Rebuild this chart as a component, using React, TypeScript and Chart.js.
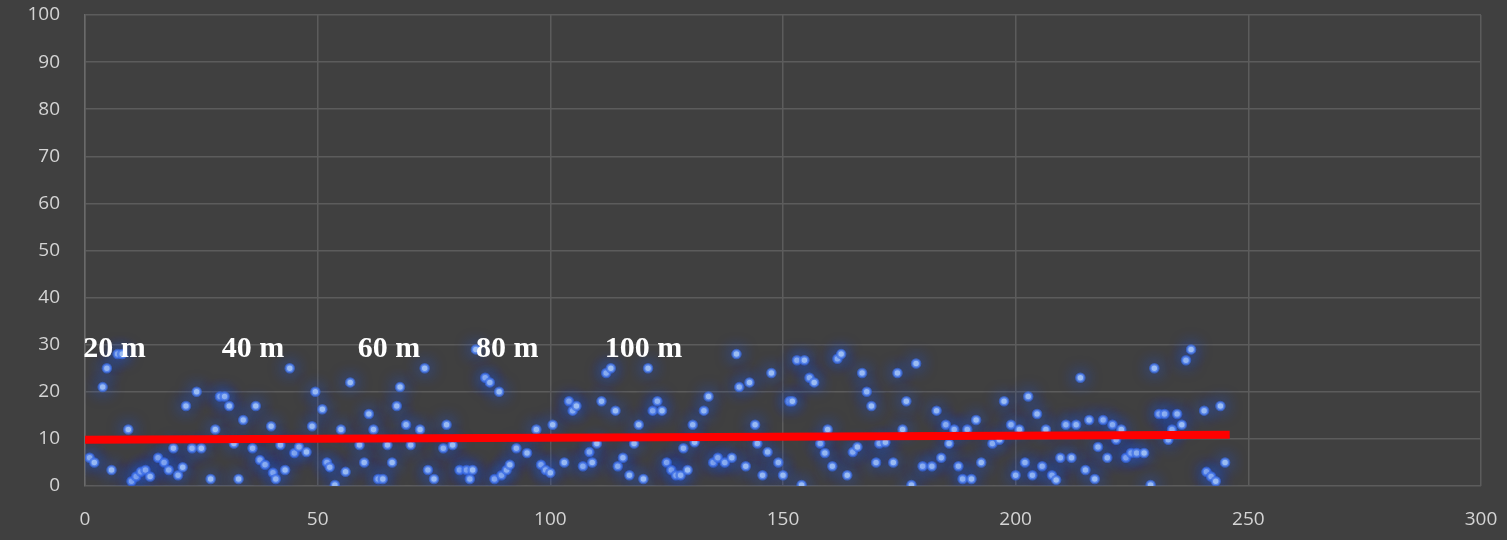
import React, { useEffect, useRef } from "react";
import { Chart, registerables } from "chart.js";

Chart.register(...registerables);

const xValues = [
  1, 2, 3.8, 4.7, 5.7, 7, 8, 9.3, 10, 11, 12, 13, 14, 15.7, 17, 18, 19, 20, 21, 21.7,
  23, 24, 25, 27, 28, 29, 30, 31, 32, 33, 34, 36, 36.7, 37.6, 38.7, 40, 40.4, 41, 42, 43,
  44, 45, 46, 47.6, 48.8, 49.5, 51, 52, 52.6, 53.7, 55, 56, 57, 59, 60, 61, 62, 63, 64, 65,
  66, 67, 67.7, 69, 70, 72, 73, 73.7, 75, 77, 77.7, 79, 80.5, 82, 82.7, 83.3, 84, 86, 87, 88,
  89, 89.5, 90.6, 91.3, 92.7, 95, 97, 98, 99, 100, 100.5, 103, 104, 104.8, 105.6, 107, 108.4, 109, 110, 111,
  112, 113, 114, 114.5, 115.6, 117, 118, 119, 120, 121, 122, 123, 124, 125, 126, 127, 128, 128.6, 129.5, 130.6,
  131, 133, 134, 135, 136, 137.5, 139, 140, 140.6, 142, 142.8, 144, 144.5, 145.6, 146.7, 147.5, 149, 150, 151.4, 152,
  153, 154, 154.6, 155.7, 156.7, 158, 159, 159.6, 160.6, 161.7, 162.5, 163.8, 165, 166, 167, 168, 169, 170, 170.7, 172,
  173.7, 174.6, 175.7, 176.5, 177.6, 178.6, 180, 182, 183, 184, 185, 185.7, 186.8, 187.7, 188.6, 189.6, 190.5, 191.5, 192.6, 195,
  196.5, 197.5, 199, 200, 200.8, 202, 202.7, 203.6, 204.6, 205.7, 206.5, 207.8, 208.7, 209.6, 210.8, 212, 213, 213.9, 215, 215.8,
  217, 217.7, 218.8, 219.7, 220.8, 221.6, 222.7, 223.7, 224.8, 226, 227.6, 229, 229.8, 230.8, 232, 232.8, 233.6, 234.7, 235.7, 236.6,
  237.7, 240.5, 241, 242, 243, 244, 245,
];

const yValues = [
  6, 5, 21, 25, 3.4, 28, 28, 12, 1, 2, 3, 3.4, 2, 6, 5, 3.4, 8, 2.3, 4, 17,
  8, 20, 8, 1.5, 12, 19, 19, 17, 9, 1.5, 14, 8, 17, 5.5, 4.5, 12.7, 2.8, 1.5, 8.7, 3.4,
  25, 7, 8.3, 7.2, 12.7, 20, 16.3, 5, 4, 0.2, 12, 3, 22, 8.7, 5, 15.3, 12, 1.5, 1.5, 8.7,
  5, 17, 21, 13, 8.7, 12, 25, 3.4, 1.5, 8, 13, 8.7, 3.4, 3.4, 1.5, 3.4, 29, 23, 22, 1.5,
  20, 2.3, 3.4, 4.5, 8, 7, 12, 4.5, 3.4, 2.8, 13, 5, 18, 16, 17, 4.2, 7.2, 5, 9, 18,
  24, 25, 16, 4.2, 6, 2.3, 9, 13, 1.5, 25, 16, 18, 16, 5, 3.4, 2.3, 2.3, 8, 3.4, 13,
  9.3, 16, 19, 5, 6, 5, 6, 28, 21, 4.2, 22, 13, 9, 2.3, 7.2, 24, 5, 2.3, 18, 18,
  26.7, 0.2, 26.7, 23, 22, 9, 7, 12, 4.2, 27, 28, 2.3, 7.2, 8.3, 24, 20, 17, 5, 9, 9.3,
  5, 24, 12, 18, 0.2, 26, 4.2, 4.2, 16, 6, 13, 9, 12, 4.2, 1.5, 12, 1.5, 14, 5, 9,
  9.8, 18, 13, 2.3, 12, 5, 19, 2.3, 15.3, 4.2, 12, 2.3, 1.3, 6, 13, 6, 13, 23, 3.4, 14,
  1.5, 8.3, 14, 6, 13, 9.8, 12, 6, 7, 7, 7, 0.2, 25, 15.3, 15.3, 9.8, 12, 15.3, 13, 26.7,
  29, 16, 3, 2, 1, 17, 5,
];

const trendX = [0, 246];
const trendY = [9.8, 10.9];

const labelTexts = ["20 m", "40 m", "60 m", "80 m", "100 m"];
const labelXs = [-0.4, 29.4, 58.6, 84, 111.7];
const labelY = 27.4;

const glowPlugin = {
  id: "glow",
  beforeDatasetDraw(chart: any, args: any) {
    if (args.index === 0) {
      const ctx = chart.ctx;
      ctx.save();
      ctx.shadowColor = "rgba(35,85,225,1)";
      ctx.shadowBlur = 16;
    }
  },
  afterDatasetDraw(chart: any, args: any) {
    if (args.index === 0) chart.ctx.restore();
  },
};

const textPlugin = {
  id: "distLabels",
  afterDatasetsDraw(chart: any) {
    const ctx = chart.ctx;
    const xs = chart.scales.x;
    const ys = chart.scales.y;
    ctx.save();
    ctx.font = 'bold 30px "Liberation Serif", "Times New Roman", serif';
    ctx.fillStyle = "#ffffff";
    ctx.textAlign = "left";
    ctx.textBaseline = "alphabetic";
    labelTexts.forEach((t, i) => {
      ctx.fillText(t, xs.getPixelForValue(labelXs[i]), ys.getPixelForValue(labelY));
    });
    ctx.restore();
  },
};

export default function App() {
  const ref = useRef<HTMLCanvasElement | null>(null);

  useEffect(() => {
    if (!ref.current) return;
    const scatterData = xValues.map((x, i) => ({ x, y: yValues[i] }));
    const trendData = trendX.map((x, i) => ({ x, y: trendY[i] }));
    const chart = new Chart(ref.current, {
      type: "scatter",
      data: {
        datasets: [
          {
            label: "data",
            data: scatterData,
            pointRadius: 4,
            pointBackgroundColor: "#a9c8f6",
            pointBorderColor: "rgba(60,110,230,0.7)",
            pointBorderWidth: 2.5,
            order: 1,
          },
          {
            label: "trend",
            type: "line",
            data: trendData,
            borderColor: "#ff0000",
            borderWidth: 8,
            pointRadius: 0,
            fill: false,
            order: 0,
          } as any,
        ],
      },
      options: {
        animation: false,
        responsive: false,
        maintainAspectRatio: false,
        layout: { padding: { top: 15, right: 26, left: 0, bottom: 0 } },
        plugins: {
          legend: { display: false },
          tooltip: { enabled: false },
        },
        scales: {
          x: {
            type: "linear",
            min: 0,
            max: 300,
            ticks: {
              stepSize: 50,
              color: "#d4d4d4",
              font: { family: '"Open Sans", sans-serif', size: 19 },
              padding: 22,
            },
            grid: { color: "#5c5c5c", lineWidth: 1.5, drawTicks: false },
            border: { display: false },
            afterFit: (s: any) => {
              s.height = 54;
              s.paddingLeft = 0;
              s.paddingRight = 0;
            },
          },
          y: {
            type: "linear",
            min: 0,
            max: 100,
            ticks: {
              stepSize: 10,
              color: "#d4d4d4",
              font: { family: '"Open Sans", sans-serif', size: 19 },
              padding: 25,
            },
            grid: { color: "#5c5c5c", lineWidth: 1.5, drawTicks: false },
            border: { display: true, color: "#6a6a6a", width: 1.5 },
            afterFit: (s: any) => {
              s.width = 85;
              s.paddingTop = 0;
              s.paddingBottom = 0;
            },
          },
        },
      },
      plugins: [glowPlugin, textPlugin],
    });
    return () => chart.destroy();
  }, []);

  return (
    <div
      style={{
        position: "fixed",
        left: 0,
        top: 0,
        width: 1507,
        height: 540,
        background: "#404040",
      }}
    >
      <canvas ref={ref} width={1507} height={540} />
    </div>
  );
}
